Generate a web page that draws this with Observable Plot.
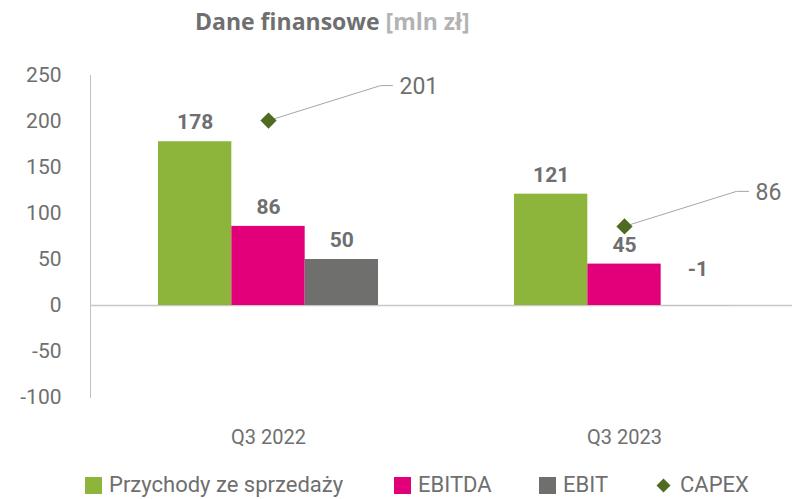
<!DOCTYPE html>
<html><head><meta charset="utf-8">
<script src="https://cdn.jsdelivr.net/npm/d3@7"></script>
<script src="https://cdn.jsdelivr.net/npm/@observablehq/plot@0.6"></script>
<style>
body{margin:0;background:#fff;font-family:Roboto,"Noto Sans",sans-serif;}
#wrap{position:relative;width:792px;height:499px;overflow:hidden;background:#fff;}
#chart{position:absolute;left:0;top:0;}
#title{position:absolute;left:195px;top:6px;font-family:"Open Sans",sans-serif;font-size:23px;line-height:31px;font-weight:700;color:#6f6f6f;white-space:nowrap;}
#title span{color:#b3b3b3;}
.lg{position:absolute;top:474px;height:22px;line-height:22px;display:flex;align-items:center;font-size:22px;color:#6f6f6f;white-space:nowrap;}
.sw{width:17px;height:17px;margin-right:7px;}
</style></head>
<body>
<div id="wrap">
  <div id="chart"></div>
  <div id="title">Dane finansowe <span>[mln zł]</span></div>
  <div id="legend"></div>
</div>
<script>
const quarters = ["Q3 2022", "Q3 2023"];
const seriesNames = ["Przychody ze sprzedaży", "EBITDA", "EBIT", "CAPEX"];
const przychody = [178, 121];
const ebitda = [86, 45];
const ebit = [50, -1];
const capex = [201, 86];
const yTicks = [-100, -50, 0, 50, 100, 150, 200, 250];
const colors = ["#8db53c", "#e2007a", "#6f6f6e", "#4f6b22"];

const barSeries = [przychody, ebitda, ebit];
const third = 220 / 3;
const textColor = "#6f6f6f";

const barMarks = [];
barSeries.forEach((vals, i) => {
  const rows = quarters.map((q, j) => ({q, v: vals[j]}));
  barMarks.push(Plot.barY(rows, {x: "q", y: "v", fill: d => d.v < 0 ? "#c4c4c4" : colors[i],
    insetLeft: i * third, insetRight: (2 - i) * third}));
});
const labelMarks = [];
barSeries.forEach((vals, i) => {
  const rows = quarters.map((q, j) => ({q, v: vals[j]}));
  labelMarks.push(Plot.text(rows.filter(d => d.v >= 0), {x: "q", y: "v", text: d => String(d.v),
    dx: (i - 1) * third, dy: -19, fontSize: 21, fontWeight: 700, fill: textColor}));
  labelMarks.push(Plot.text(rows.filter(d => d.v < 0), {x: "q", y: 0, text: d => String(d.v),
    dx: (i - 1) * third, dy: -36, fontSize: 21, fontWeight: 700, fill: textColor}));
});
const capexRows = quarters.map((q, j) => ({q, v: capex[j]}));

const chart = Plot.plot({
  width: 792,
  height: 499,
  marginLeft: 90,
  marginRight: 0,
  marginTop: 75,
  marginBottom: 102,
  style: {fontFamily: "Roboto, 'Noto Sans', sans-serif", background: "transparent", overflow: "hidden"},
  x: {domain: quarters, range: [90, 802], paddingInner: 136 / 356, paddingOuter: 68 / 356},
  y: {domain: [-100, 250], ticks: yTicks},
  marks: [
    Plot.frame({anchor: "left", stroke: "#bfbfbf"}),
    Plot.ruleY([0], {stroke: "#c8c8c8", strokeWidth: 1.3}),
    ...barMarks,
    Plot.axisY({ticks: yTicks, tickFormat: d => String(d), tickSize: 0, tickPadding: 29, fontSize: 21, fill: textColor, label: null}),
    Plot.axisX({tickSize: 0, tickPadding: 32, fontSize: 20, fill: textColor, label: null}),
    ...labelMarks,
    Plot.vector(capexRows, {x: "q", y: "v", length: 1, rotate: 0, anchor: "start",
      stroke: "#a6a6a6", strokeWidth: 1,
      shape: {draw(ctx) { ctx.moveTo(0, 0); ctx.lineTo(112, -35); ctx.lineTo(124, -35); }}}),
    Plot.dot(capexRows, {x: "q", y: "v", symbol: "diamond2", r: 7.3, fill: colors[3], stroke: "none"}),
    Plot.text(capexRows, {x: "q", y: "v", text: d => String(d.v), dx: 131, dy: -34,
      textAnchor: "start", fontSize: 23, fill: textColor})
  ]
});
document.getElementById("chart").append(chart);

// legend
const legendStarts = [85, 394, 539, 656];
const legend = document.getElementById("legend");
seriesNames.forEach((name, i) => {
  const item = document.createElement("div");
  item.className = "lg";
  item.style.left = legendStarts[i] + "px";
  if (i < 3) {
    const sw = document.createElement("div");
    sw.className = "sw";
    sw.style.background = colors[i];
    item.append(sw);
  } else {
    const ns = "http://www.w3.org/2000/svg";
    const s = document.createElementNS(ns, "svg");
    s.setAttribute("width", 15); s.setAttribute("height", 17);
    s.style.marginRight = "9px";
    const p = document.createElementNS(ns, "polygon");
    p.setAttribute("points", "7.5,1.5 14.5,8.5 7.5,15.5 0.5,8.5");
    p.setAttribute("fill", colors[3]);
    s.append(p);
    item.append(s);
  }
  const t = document.createElement("span");
  t.textContent = name;
  item.append(t);
  legend.append(item);
});
</script>
</body></html>
